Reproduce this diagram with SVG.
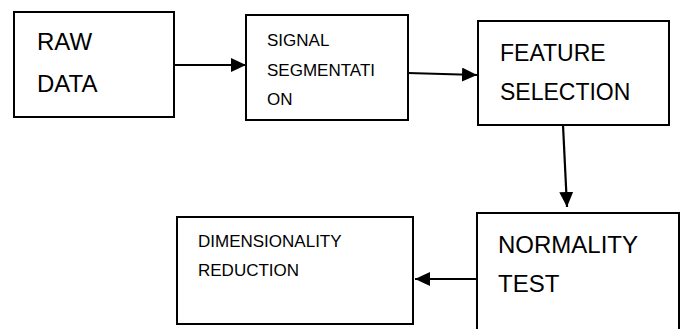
<svg xmlns="http://www.w3.org/2000/svg" width="680" height="329" viewBox="0 0 680 329">
<style>
.box{fill:#fff;stroke:#000;stroke-width:2}
.t{font-family:"Liberation Sans",Arial,sans-serif;fill:#000}
.c{stroke:#000;stroke-width:2.2;fill:none}
</style>
<defs>
<marker id="ah" markerUnits="userSpaceOnUse" markerWidth="16" markerHeight="14" refX="15" refY="7" orient="auto">
<path d="M0,0 L15,7 L0,14 z" fill="#000"/>
</marker>
</defs>
<rect width="680" height="329" fill="#fff"/>
<g id="raw-data">
<rect class="box" x="14" y="12" width="160" height="105"/>
<text class="t" x="37" y="50" font-size="24">RAW</text>
<text class="t" x="37" y="92" font-size="24">DATA</text>
</g>
<g id="signal-segmentation">
<rect class="box" x="246" y="15" width="162" height="105"/>
<text class="t" x="267" y="46" font-size="17">SIGNAL</text>
<text class="t" x="267" y="76" font-size="17">SEGMENTATI</text>
<text class="t" x="267" y="105" font-size="17">ON</text>
</g>
<g id="feature-selection">
<rect class="box" x="478" y="21" width="191" height="104"/>
<text class="t" x="500" y="61" font-size="23">FEATURE</text>
<text class="t" x="500" y="100" font-size="23">SELECTION</text>
</g>
<g id="normality-test">
<rect class="box" x="477" y="213" width="202" height="130"/>
<text class="t" x="498" y="253" font-size="24">NORMALITY</text>
<text class="t" x="498" y="292" font-size="24">TEST</text>
</g>
<g id="dimensionality-reduction">
<rect class="box" x="177" y="217" width="236" height="107"/>
<text class="t" x="198" y="247" font-size="17">DIMENSIONALITY</text>
<text class="t" x="198" y="276" font-size="17">REDUCTION</text>
</g>
<g id="connectors">
<line class="c" x1="174" y1="65" x2="246" y2="65" marker-end="url(#ah)"/>
<line class="c" x1="408" y1="73" x2="477" y2="75" marker-end="url(#ah)"/>
<line class="c" x1="563" y1="125" x2="567" y2="207" marker-end="url(#ah)"/>
<line class="c" x1="477" y1="279" x2="415" y2="279" marker-end="url(#ah)"/>
</g>
</svg>
